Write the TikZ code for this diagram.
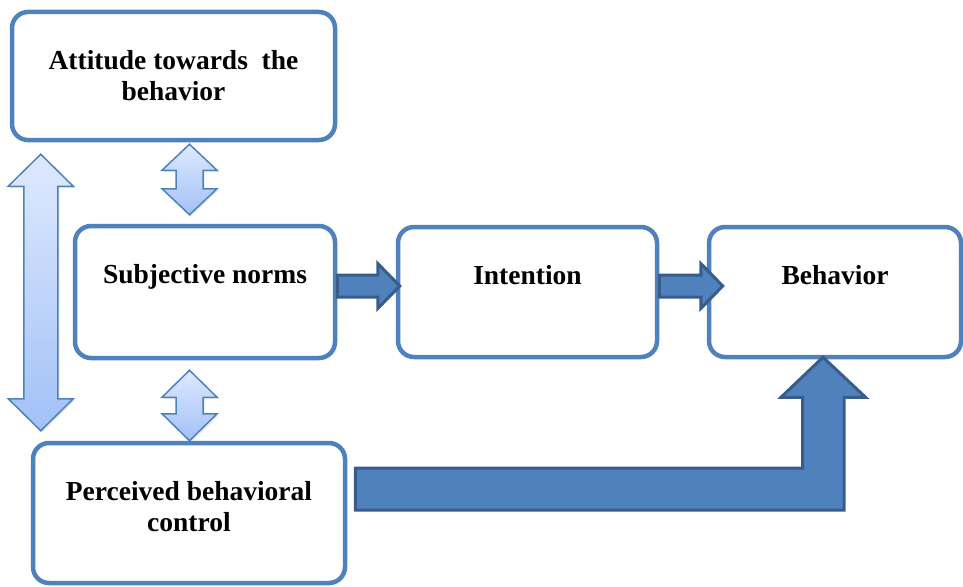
\documentclass[tikz,border=0pt]{standalone}
\usepackage{fontspec}
\setmainfont{Liberation Serif}
\usetikzlibrary{positioning,calc,shadows}
\definecolor{tpbblue}{RGB}{79, 129, 189}
\definecolor{tpbdark}{RGB}{56, 93, 138}
\definecolor{tpbpale}{RGB}{222, 233, 254}
\definecolor{tpblight}{RGB}{162, 193, 246}

\tikzset{
  boxnode/.style={draw=tpbblue, line width=4.5pt, rounded corners=16pt, fill=white, inner sep=0pt},
  boxtext/.style={font=\fontsize{27.5}{31.5}\selectfont\bfseries, align=center, inner sep=0pt},
  lightarrow/.style={draw=tpbblue, line width=1.5pt, top color=tpbpale, bottom color=tpblight,
    drop shadow={shadow xshift=1.5pt, shadow yshift=-1.5pt, opacity=0.2}},
  darkarrow/.style={draw=tpbdark, line width=3pt, fill=tpbblue}
}

% double arrow: top tip, bottom tip, head half width, shaft half width, head length
\newcommand{\tpbdouble}[5]{%
  \path[lightarrow] (#1) -- ($(#1)+(#3,#5)$) -- ($(#1)+(#4,#5)$) -- ($(#2)+(#4,-#5)$)
    -- ($(#2)+(#3,-#5)$) -- (#2) -- ($(#2)+(-#3,-#5)$) -- ($(#2)+(-#4,-#5)$)
    -- ($(#1)+(-#4,#5)$) -- ($(#1)+(-#3,#5)$) -- cycle;}
% block arrow: start of shaft, tip
\newcommand{\tpbright}[2]{%
  \path[darkarrow] ($(#1)+(0,-11)$) -- ($(#2)+(-22,-11)$) -- ($(#2)+(-22,-22.5)$) -- (#2)
    -- ($(#2)+(-22,22.5)$) -- ($(#2)+(-22,11)$) -- ($(#1)+(0,11)$) -- cycle;}

\begin{document}
\begin{tikzpicture}[x=1pt, y=-1pt]
\useasboundingbox (0,0) rectangle (963,586);

% boxes
\node[boxnode, minimum width=323pt, minimum height=128pt] (att) at (173.5,76) {};
\node[boxnode, minimum width=260pt, minimum height=132pt] (sub) at (205,292) {};
\node[boxnode, minimum width=259pt, minimum height=130pt] (int) at (527.5,292) {};
\node[boxnode, minimum width=252pt, minimum height=130pt] (beh) at (835,292) {};
\node[boxnode, minimum width=312pt, minimum height=140pt] (perc) at (189,513) {};

\node[boxtext, below=40pt of att.north] (atttext) {Attitude towards~ the\\behavior};
\node[boxtext, below=40pt of sub.north] (subtext) {Subjective norms};
\node[boxtext, below=40pt of int.north] (inttext) {Intention};
\node[boxtext, below=40pt of beh.north] (behtext) {Behavior};
\node[boxtext, below=40pt of perc.north] (perctext) {Perceived behavioral\\control};

% two-way arrows
\coordinate (u1) at ($(att.south)+(16,2)$);
\coordinate (u2) at ($(u1|-sub.north)+(0,-9)$);
\coordinate (l1) at ($(u1|-sub.south)+(0,10)$);
\coordinate (l2) at (u1|-perc.north);
\coordinate (v1) at ($(att.south west)+(31,12)$);
\coordinate (v2) at ($(v1|-perc.north)+(0,-10)$);
\tpbdouble{u1}{u2}{27.5}{13.5}{26}
\tpbdouble{l1}{l2}{27.5}{13.5}{27}
\tpbdouble{v1}{v2}{32.5}{17}{32}

% block arrows
\coordinate (s1) at ($(sub.east)+(0,-6)$);
\coordinate (t1) at ($(int.west)+(4,-6)$);
\coordinate (s2) at ($(int.east)+(0,-6)$);
\coordinate (t2) at ($(beh.west)+(16,-6)$);
\tpbright{s1}{t1}
\tpbright{s2}{t2}

\coordinate (e0) at ($(perc.east)+(8,-24)$);
\coordinate (e1) at ($(beh.south)+(-12,-2)$);
\path[darkarrow] ($(e0)+(0,-21)$) -| ($(e1)+(-20.5,40)$) -- ++(-21.5,0) -- (e1)
  -- ($(e1)+(42.5,40)$) -- ++(-21.5,0) |- ($(e0)+(0,21)$) -- cycle;
\end{tikzpicture}
\end{document}
